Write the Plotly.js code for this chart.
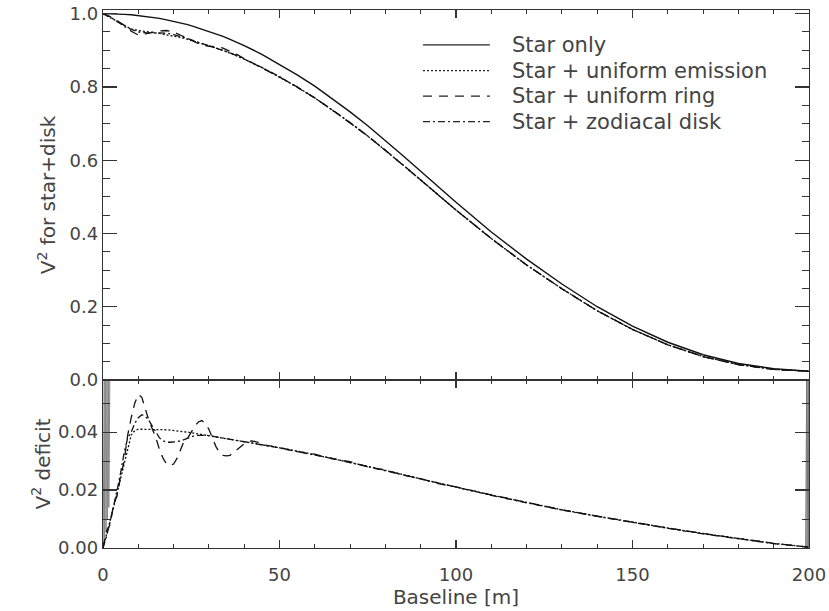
<!DOCTYPE html>
<html><head><meta charset="utf-8">
<script src="https://cdn.plot.ly/plotly-3.0.1.min.js"></script>
<style>body{margin:0;background:#fff}#chart{width:829px;height:611px}</style>
</head><body><div id="chart"></div>
<script>
// ---- data ----
const baselineTop = [0,2,4,6,8,10,12,14,16,18,20,22,24,26,28,30,32,34,36,38,40,45,50,55,60,65,70,75,80,85,90,95,100,110,120,130,140,150,160,170,180,190,200];
const starOnly = [1.000,1.000,0.999,0.998,0.997,0.995,0.993,0.990,0.987,0.983,0.979,0.975,0.970,0.964,0.958,0.952,0.945,0.938,0.930,0.922,0.913,0.889,0.862,0.833,0.802,0.768,0.732,0.694,0.654,0.612,0.570,0.527,0.485,0.404,0.330,0.262,0.200,0.147,0.103,0.069,0.045,0.031,0.024];
const starEmission = [1.000,0.990,0.980,0.969,0.958,0.954,0.952,0.949,0.946,0.942,0.939,0.935,0.930,0.924,0.919,0.913,0.907,0.900,0.892,0.885,0.876,0.853,0.827,0.800,0.770,0.737,0.702,0.666,0.627,0.587,0.546,0.505,0.464,0.386,0.314,0.249,0.189,0.138,0.096,0.064,0.042,0.029,0.024];
const starRing = [1.000,0.992,0.981,0.968,0.952,0.942,0.945,0.949,0.953,0.954,0.950,0.941,0.932,0.922,0.914,0.911,0.910,0.906,0.898,0.888,0.877,0.853,0.827,0.800,0.770,0.737,0.702,0.666,0.627,0.587,0.546,0.505,0.464,0.386,0.314,0.249,0.189,0.138,0.096,0.064,0.042,0.029,0.024];
const starZodiacal = [1.000,0.991,0.979,0.965,0.957,0.950,0.948,0.948,0.949,0.947,0.943,0.938,0.932,0.925,0.919,0.913,0.907,0.900,0.893,0.885,0.876,0.853,0.828,0.800,0.770,0.737,0.703,0.666,0.627,0.587,0.546,0.505,0.464,0.386,0.314,0.249,0.189,0.138,0.096,0.064,0.042,0.029,0.024];

const baselineDef = [0,1,2,3,4,5,6,7,8,9,10,11,12,13,14,15,16,17,18,19,20,21,22,23,24,25,26,27,28,29,30,31,32,33,34,35,36,37,38,39,40,42,44,46,48,50,55,60,65,70,75,80,85,90,95,100,110,120,130,140,150,160,170,180,190,200];
const defEmission = [0,0.0045,0.0095,0.014,0.019,0.024,0.029,0.034,0.039,0.0405,0.041,0.041,0.041,0.041,0.041,0.041,0.041,0.0409,0.0408,0.0407,0.0405,0.0404,0.0403,0.0401,0.0400,0.0398,0.0396,0.0394,0.0392,0.0390,0.0388,0.0386,0.0384,0.0382,0.0380,0.0378,0.0376,0.0373,0.0371,0.0369,0.0367,0.0363,0.0359,0.0355,0.0351,0.0346,0.0335,0.0322,0.0310,0.0296,0.0282,0.0268,0.0253,0.0238,0.0224,0.0210,0.0183,0.0157,0.0132,0.0110,0.0089,0.0069,0.0050,0.0032,0.0016,0.0003];
const defRing = [0,0.006,0.008,0.015,0.018,0.025,0.030,0.039,0.045,0.050,0.053,0.052,0.048,0.044,0.041,0.038,0.034,0.031,0.029,0.0285,0.029,0.031,0.034,0.037,0.038,0.040,0.042,0.0435,0.044,0.043,0.041,0.038,0.035,0.033,0.032,0.0318,0.032,0.033,0.034,0.035,0.036,0.037,0.0365,0.0355,0.0352,0.0347,0.0333,0.0324,0.0308,0.0298,0.0280,0.0269,0.0252,0.0239,0.0222,0.0211,0.0183,0.0157,0.0132,0.0110,0.0089,0.0069,0.0050,0.0032,0.0016,0.0003];
const defZodiacal = [0,0.004,0.009,0.014,0.020,0.026,0.033,0.038,0.040,0.043,0.045,0.046,0.0455,0.044,0.042,0.040,0.038,0.037,0.0365,0.0365,0.0365,0.0367,0.037,0.0375,0.038,0.0384,0.0388,0.0389,0.039,0.0389,0.0388,0.0386,0.0384,0.0381,0.0378,0.0376,0.0374,0.0372,0.037,0.0368,0.0366,0.0362,0.0358,0.0354,0.0350,0.0345,0.0334,0.0321,0.0309,0.0295,0.0281,0.0267,0.0252,0.0237,0.0223,0.0209,0.0182,0.0156,0.0131,0.0109,0.0088,0.0068,0.0049,0.0031,0.0015,0.0003];

// noisy deficit at the two ends of the baseline range
const noiseLeftX = [0.05,0.15,0.25,0.35,0.45,0.55,0.65,0.75,0.85,0.95,1.05,1.15,1.25,1.35,1.45,1.55,1.65,1.75,1.85,1.95];
const noiseLeftY = [0.000,0.060,0.001,0.060,0.003,0.060,0.004,0.060,0.006,0.060,0.008,0.060,0.010,0.060,0.012,0.060,0.014,0.060,0.016,0.060];
const noiseRightX = [199.05,199.15,199.25,199.35,199.45,199.55,199.65,199.75,199.85,199.95];
const noiseRightY = [0.000,0.060,0.000,0.060,0.000,0.060,0.000,0.060,0.000,0.060];

const xTicks = [0,50,100,150,200];
const legendLabels = ['Star only','Star + uniform emission','Star + uniform ring','Star + zodiacal disk'];
// --------------------------------------

const FONT = 'DejaVu Sans, sans-serif';
const TXT = '#444';
const AX = '#333';
const dashes = ['solid','2px,2px','9px,7px','7px,3px,2px,3px'];

const traces = [
  {x: baselineTop, y: starOnly, xaxis:'x2', yaxis:'y2', mode:'lines', line:{color:'#111', width:1.4, dash:dashes[0]}, name:legendLabels[0]},
  {x: baselineTop, y: starEmission, xaxis:'x2', yaxis:'y2', mode:'lines', line:{color:'#111', width:1.3, dash:dashes[1]}, name:legendLabels[1]},
  {x: baselineTop, y: starRing, xaxis:'x2', yaxis:'y2', mode:'lines', line:{color:'#111', width:1.3, dash:dashes[2]}, name:legendLabels[2]},
  {x: baselineTop, y: starZodiacal, xaxis:'x2', yaxis:'y2', mode:'lines', line:{color:'#111', width:1.3, dash:dashes[3]}, name:legendLabels[3]},
  {x: noiseLeftX, y: noiseLeftY, mode:'lines', line:{color:'#888', width:1}, name:'noise'},
  {x: noiseRightX, y: noiseRightY, mode:'lines', line:{color:'#777', width:1}, name:'noise'},
  {x: baselineDef, y: defEmission, mode:'lines', line:{color:'#111', width:1.3, dash:dashes[1]}, name:legendLabels[1]},
  {x: baselineDef, y: defRing, mode:'lines', line:{color:'#111', width:1.3, dash:dashes[2]}, name:legendLabels[2]},
  {x: baselineDef, y: defZodiacal, mode:'lines', line:{color:'#111', width:1.3, dash:dashes[3]}, name:legendLabels[3]}
];

const commonAxis = {
  showline:true, linecolor:AX, linewidth:1.3, mirror:'allticks', ticks:'inside',
  tickcolor:AX, tickwidth:1.2, showgrid:false, zeroline:false,
  tickfont:{family:FONT, size:18, color:TXT}
};

const shapes = [];
const annotations = [];
const rowY = [0.935, 0.8875, 0.840, 0.7927];
legendLabels.forEach((lab, i) => {
  shapes.push({type:'line', xref:'paper', yref:'paper', x0:0.4533, x1:0.548, y0:rowY[i], y1:rowY[i],
    line:{color:'#222', width:1.2, dash:dashes[i]}});
  annotations.push({xref:'paper', yref:'paper', x:0.577, y:rowY[i], xanchor:'left', yanchor:'middle',
    text:lab, showarrow:false, font:{family:FONT, size:21, color:TXT}});
});

const layout = {
  width:829, height:611,
  margin:{l:103, r:20, t:10, b:63},
  paper_bgcolor:'#fff', plot_bgcolor:'#fff',
  showlegend:false,
  xaxis: Object.assign({}, commonAxis, {domain:[0,1], anchor:'y', range:[0,200], tickvals:xTicks, ticklen:8,
    ticklabelstandoff:10,
    minor:{dtick:10, ticklen:4, ticks:'inside', tickcolor:AX, tickwidth:1},
    title:{text:'Baseline [m]', font:{family:FONT, size:20, color:TXT}, standoff:2}}),
  yaxis: Object.assign({}, commonAxis, {domain:[0,0.3123], anchor:'x', range:[0,0.058], dtick:0.02, tick0:0,
    tickformat:'.2f', ticklen:14, minor:{dtick:0.01, ticklen:7, ticks:'inside', tickcolor:AX, tickwidth:1},
    title:{text:'V<sup>2</sup> deficit', font:{family:FONT, size:20, color:TXT}, standoff:2}}),
  xaxis2: Object.assign({}, commonAxis, {domain:[0,1], anchor:'y2', matches:'x', range:[0,200], tickvals:xTicks,
    showticklabels:false, ticklen:8, minor:{dtick:10, ticklen:4, ticks:'inside', tickcolor:AX, tickwidth:1}}),
  yaxis2: Object.assign({}, commonAxis, {domain:[0.3123,1], anchor:'x2', range:[0,1.01], dtick:0.2, tick0:0,
    tickformat:'.1f', ticklen:14, minor:{dtick:0.05, ticklen:7, ticks:'inside', tickcolor:AX, tickwidth:1},
    title:{text:'V<sup>2</sup> for star+disk', font:{family:FONT, size:20, color:TXT}, standoff:8}}),
  shapes: shapes,
  annotations: annotations
};

Plotly.newPlot('chart', traces, layout, {staticPlot:true, displayModeBar:false});
</script>
</body></html>
